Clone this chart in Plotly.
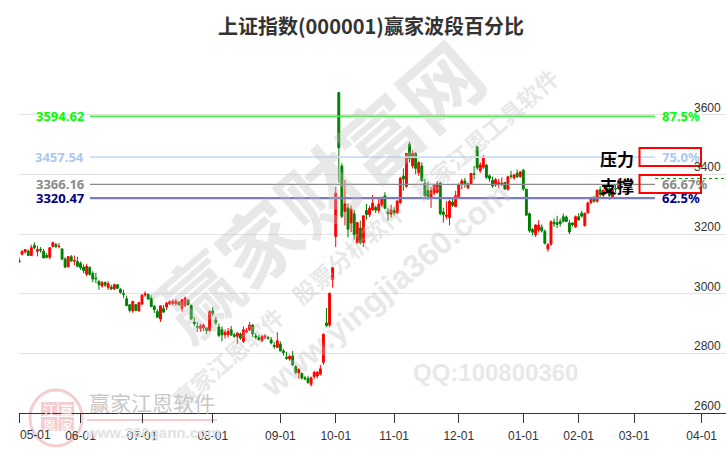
import plotly.graph_objects as go

opens = [3113,3132,3140,3143,3128,3162,3142,3149,3142,3128,3122,3158,3165,3158,3150,3116,3090,3124,3109,3108,
3102,3089,3065,3088,3068,3052,3041,3026,3038,3021,3022,3016,3030,3015,3000,2983,2963,2942,2963,2942,
2965,2996,2998,2985,2958,2940,2915,2950,2955,2966,2967,2966,2971,2951,2960,2979,2961,2905,2890,2884,
2885,2885,2876,2942,2912,2888,2879,2862,2862,2879,2862,2857,2865,2840,2872,2879,2895,2858,2853,2843,
2854,2853,2845,2827,2820,2831,2808,2787,2781,2791,2755,2735,2733,2718,2716,2696,2722,2724,2731,2770,
2902,2895,3048,3192,3674,3428,3276,3288,3237,3268,3171,3220,3171,3279,3265,3281,3289,3279,3298,3328,
3274,3267,3278,3270,3306,3394,3360,3502,3428,3470,3405,3428,3370,3346,3320,3337,3340,3370,3274,3259,
3255,3307,3292,3326,3366,3378,3355,3368,3402,3492,3412,3424,3431,3395,3380,3364,3367,3368,3372,3350,
3395,3388,3404,3393,3414,3350,3268,3215,3198,3213,3223,3209,3150,3166,3240,3238,3242,3258,3257,3237,
3237,3224,3258,3270,3228,3271,3305,3320,3310,3348,3330,3346,3352,3322,3352,3352]
highs = [3123,3146,3150,3148,3164,3172,3160,3156,3150,3136,3155,3175,3170,3170,3152,3122,3125,3130,3128,3124,
3108,3098,3100,3092,3075,3070,3045,3042,3040,3042,3030,3034,3032,3018,3013,2993,2965,2976,2966,2972,
2998,3008,3000,2995,2962,2948,2962,2962,2972,2978,2981,2982,2975,2982,2990,2981,2963,2922,2905,2899,
2900,2888,2944,2955,2922,2900,2890,2880,2885,2892,2868,2870,2870,2890,2885,2905,2897,2868,2862,2862,
2864,2858,2855,2838,2870,2840,2815,2805,2795,2808,2760,2750,2735,2725,2725,2722,2742,2740,2761,2866,
2952,3004,3088,3358,3674,3437,3381,3302,3295,3281,3240,3245,3262,3301,3295,3331,3295,3320,3325,3340,
3287,3298,3290,3312,3392,3420,3472,3509,3480,3475,3445,3440,3385,3375,3358,3368,3378,3375,3288,3310,
3315,3323,3345,3370,3385,3388,3372,3405,3428,3495,3440,3464,3435,3400,3392,3388,3385,3390,3375,3395,
3412,3402,3416,3412,3418,3352,3272,3220,3233,3246,3232,3215,3170,3246,3252,3261,3252,3268,3262,3248,
3240,3262,3270,3278,3272,3308,3325,3328,3350,3360,3350,3365,3362,3352,3365,3385]
lows = [3103,3128,3135,3127,3126,3149,3125,3138,3118,3118,3115,3155,3152,3152,3112,3085,3088,3106,3095,3088,
3080,3068,3058,3060,3038,3035,3013,3020,3022,3013,3012,3012,3015,3000,2985,2958,2937,2936,2941,2940,
2962,2990,2980,2956,2935,2918,2905,2937,2945,2962,2961,2960,2960,2940,2955,2960,2912,2892,2872,2873,
2875,2865,2874,2925,2895,2855,2840,2850,2853,2858,2852,2832,2845,2835,2868,2875,2855,2848,2843,2838,
2848,2846,2830,2815,2818,2807,2792,2778,2775,2758,2730,2715,2712,2710,2698,2689,2715,2716,2726,2762,
2888,2888,3020,3156,3372,3253,3229,3189,3206,3181,3168,3165,3156,3248,3257,3278,3270,3270,3290,3284,
3245,3255,3262,3268,3300,3345,3355,3440,3420,3400,3395,3375,3325,3315,3287,3330,3335,3263,3238,3250,
3229,3290,3290,3322,3350,3355,3350,3365,3383,3415,3405,3418,3385,3375,3355,3358,3355,3360,3348,3345,
3385,3382,3388,3388,3345,3262,3205,3195,3190,3205,3205,3165,3141,3160,3224,3220,3225,3238,3240,3200,
3225,3220,3245,3255,3225,3268,3300,3305,3305,3325,3322,3338,3315,3318,3340,3350]
closes = [3105,3141,3148,3128,3154,3154,3148,3146,3120,3122,3154,3171,3158,3159,3116,3089,3124,3110,3111,3092,
3087,3078,3091,3065,3049,3050,3030,3037,3029,3033,3016,3030,3018,3004,2998,2960,2944,2974,2944,2970,
2995,3000,2982,2957,2947,2921,2959,2938,2968,2973,2974,2975,2963,2979,2985,2964,2915,2900,2888,2892,
2895,2876,2940,2933,2903,2860,2862,2870,2873,2862,2857,2868,2851,2879,2875,2895,2865,2855,2846,2856,
2858,2850,2835,2823,2842,2808,2803,2783,2790,2761,2736,2746,2717,2715,2702,2718,2736,2737,2748,2864,
2893,3001,3087,3337,3489,3259,3301,3216,3284,3198,3238,3171,3261,3265,3286,3303,3280,3300,3322,3286,
3267,3281,3271,3311,3387,3384,3470,3452,3470,3420,3439,3379,3329,3320,3346,3365,3368,3268,3265,3263,
3310,3296,3328,3365,3378,3366,3368,3403,3400,3422,3432,3460,3390,3386,3361,3382,3372,3370,3351,3392,
3393,3398,3392,3408,3351,3263,3211,3206,3230,3230,3211,3169,3164,3241,3234,3232,3235,3243,3242,3207,
3231,3258,3247,3260,3269,3304,3322,3310,3346,3332,3346,3356,3329,3350,3351,3379]

date_ticks = [20,40,63,85,103,122,143,164,182,200,222]
date_labels = ["06-01","07-01","08-01","09-01","10-01","11-01","12-01","01-01","02-01","03-01","04-01"]
first_date_label = "05-01"
price_ticks = [2600,2800,3000,3200,3400,3600,3800]
price_labels = ["2600","2800","3000","3200","3400","3600"]
level_values = [3594.62,3457.54,3366.16,3320.47]
level_names = ["3594.62","3457.54","3366.16","3320.47"]
level_pcts = ["87.5%","75.0%","66.67%","62.5%"]
level_line_colors = ["#3cf53c","#c9def7","#8a8a8a","#7c7cc4"]
level_text_colors = ["#00ff00","#a9c9f2","#8a8a8a","#000080"]
last_price = 3386

W, H = 726, 450
L, R, T, B = 19, 0, 55, 37
XMAX = (W-L)/3.075
def px(x): return (x-L)/(W-L-R)
def py(y): return 1-(y-T)/(H-T-B)
def ix(x): return (x-L)/3.075

fig = go.Figure()
for v, c, w in zip(level_values, level_line_colors, [1.5,1.8,1.3,2.2]):
    fig.add_trace(go.Scatter(x=[ix(90), ix(655)], y=[v, v], mode="lines", line=dict(color=c, width=w), hoverinfo="skip"))
fig.add_trace(go.Scatter(x=[ix(655), XMAX], y=[last_price, last_price], mode="lines",
                         line=dict(color="#00a000", width=1, dash="dot"), hoverinfo="skip"))
fig.add_trace(go.Candlestick(x=list(range(len(opens))), open=opens, high=highs, low=lows, close=closes,
    increasing=dict(line=dict(color="#ff0000", width=1), fillcolor="#ff0000"),
    decreasing=dict(line=dict(color="#008000", width=1), fillcolor="#008000"),
    whiskerwidth=0))

ann = []
def text(x, y, s, size, color, bold=False, anchor="center", angle=0, family="Noto Sans CJK SC"):
    t = f"<b>{s}</b>" if bold else s
    ann.append(dict(x=px(x), y=py(y), xref="paper", yref="paper", text=t, showarrow=False, xanchor=anchor, yanchor="middle",
                    textangle=angle, font=dict(size=size, color=color, family=family)))

WM = "rgba(190,190,190,0.36)"
GAP = "\u00a0\u00a0\u00a0\u00a0"
text(317, 188, "赢家财富网", 80, WM, True, angle=-41)
text(365, 238, "赢家江恩软件" + GAP + "股票分析软件" + GAP + "赢家江恩工具软件", 23, WM, True, angle=-41)
text(385, 290, "www.yingjia360.com", 32, WM, True, angle=-40, family="Liberation Sans")
text(495, 372, "QQ:100800360", 24, WM, True, family="Liberation Sans")
text(152, 402, "赢家江恩软件", 21, "#c8c8c8")
text(152, 432, "www.360gann.com", 15, "#e2e2e2", True, family="Liberation Sans")
for (x, y, s) in [(49,409,"江"),(66,409,"赢"),(49,424,"恩"),(66,424,"家")]:
    text(x, y, s, 13, "#ffffff", False)

text(371, 26, "上证指数(000001)赢家波段百分比", 20, "#333333", True)
for v, n, p, c in zip(level_values, level_names, level_pcts, level_text_colors):
    y = T + (3800-v)/1200*(H-T-B)
    text(86, y, n, 13, c, True, anchor="right", family="Noto Sans")
    text(660, y, p, 13, c, True, anchor="left", family="Noto Sans")
text(617, 158, "压力", 17, "#000000", True)
text(617, 185, "支撑", 17, "#000000", True)
text(18, 435.5, first_date_label, 12, "#333333", anchor="left", family="Liberation Sans")
for v, s in zip(price_ticks, price_labels):
    y = T + (3800-v)/1200*(H-T-B)
    text(723, y-7, s, 12, "#333333", anchor="right", family="Liberation Sans")

PINK = "rgba(240,190,190,0.75)"
shapes = [
    dict(type="rect", xref="paper", yref="paper", x0=px(639.5), x1=px(701), y0=py(148), y1=py(166), line=dict(color="#ff0000", width=2)),
    dict(type="rect", xref="paper", yref="paper", x0=px(639.5), x1=px(701), y0=py(175), y1=py(193), line=dict(color="#ff0000", width=2)),
    dict(type="circle", xref="paper", yref="paper", x0=px(30), x1=px(82), y0=py(390), y1=py(446), line=dict(color=PINK, width=3), layer="below"),
    dict(type="rect", xref="paper", yref="paper", x0=px(41), x1=px(57.5), y0=py(402), y1=py(416), fillcolor=PINK, line=dict(width=0), layer="below"),
    dict(type="rect", xref="paper", yref="paper", x0=px(58.5), x1=px(74), y0=py(402), y1=py(416), fillcolor=PINK, line=dict(width=0), layer="below"),
    dict(type="rect", xref="paper", yref="paper", x0=px(41), x1=px(57.5), y0=py(417), y1=py(431), fillcolor=PINK, line=dict(width=0), layer="below"),
    dict(type="rect", xref="paper", yref="paper", x0=px(58.5), x1=px(74), y0=py(417), y1=py(431), fillcolor=PINK, line=dict(width=0), layer="below"),
    dict(type="line", xref="paper", yref="paper", x0=px(87), x1=px(217), y0=py(420), y1=py(420), line=dict(color=PINK, width=2), layer="below"),
]

fig.update_layout(
    width=W, height=H, margin=dict(l=L, r=R, t=T, b=B), showlegend=False, boxgap=0.12,
    paper_bgcolor="white", plot_bgcolor="white", annotations=ann, shapes=shapes,
    font=dict(family="Liberation Sans", size=12, color="#333333"),
    xaxis=dict(range=[0, XMAX], tickmode="array", tickvals=[0]+date_ticks, ticktext=[""]+date_labels, ticks="outside", ticklen=9,
               tickcolor="#333333", showgrid=False, showline=True, linecolor="#333333", linewidth=1, ticklabelstandoff=3,
               rangeslider=dict(visible=False), zeroline=False, tickangle=0),
    yaxis=dict(range=[2600, 3800], side="right", tickmode="array", tickvals=price_ticks, showticklabels=False,
               showgrid=True, gridcolor="#e2e2e2", gridwidth=1, zeroline=False, showline=False, ticks=""),
)
fig.write_html("out.html", config=dict(displayModeBar=False),
               post_script="document.body.style.margin='0';document.body.style.overflow='hidden';")
